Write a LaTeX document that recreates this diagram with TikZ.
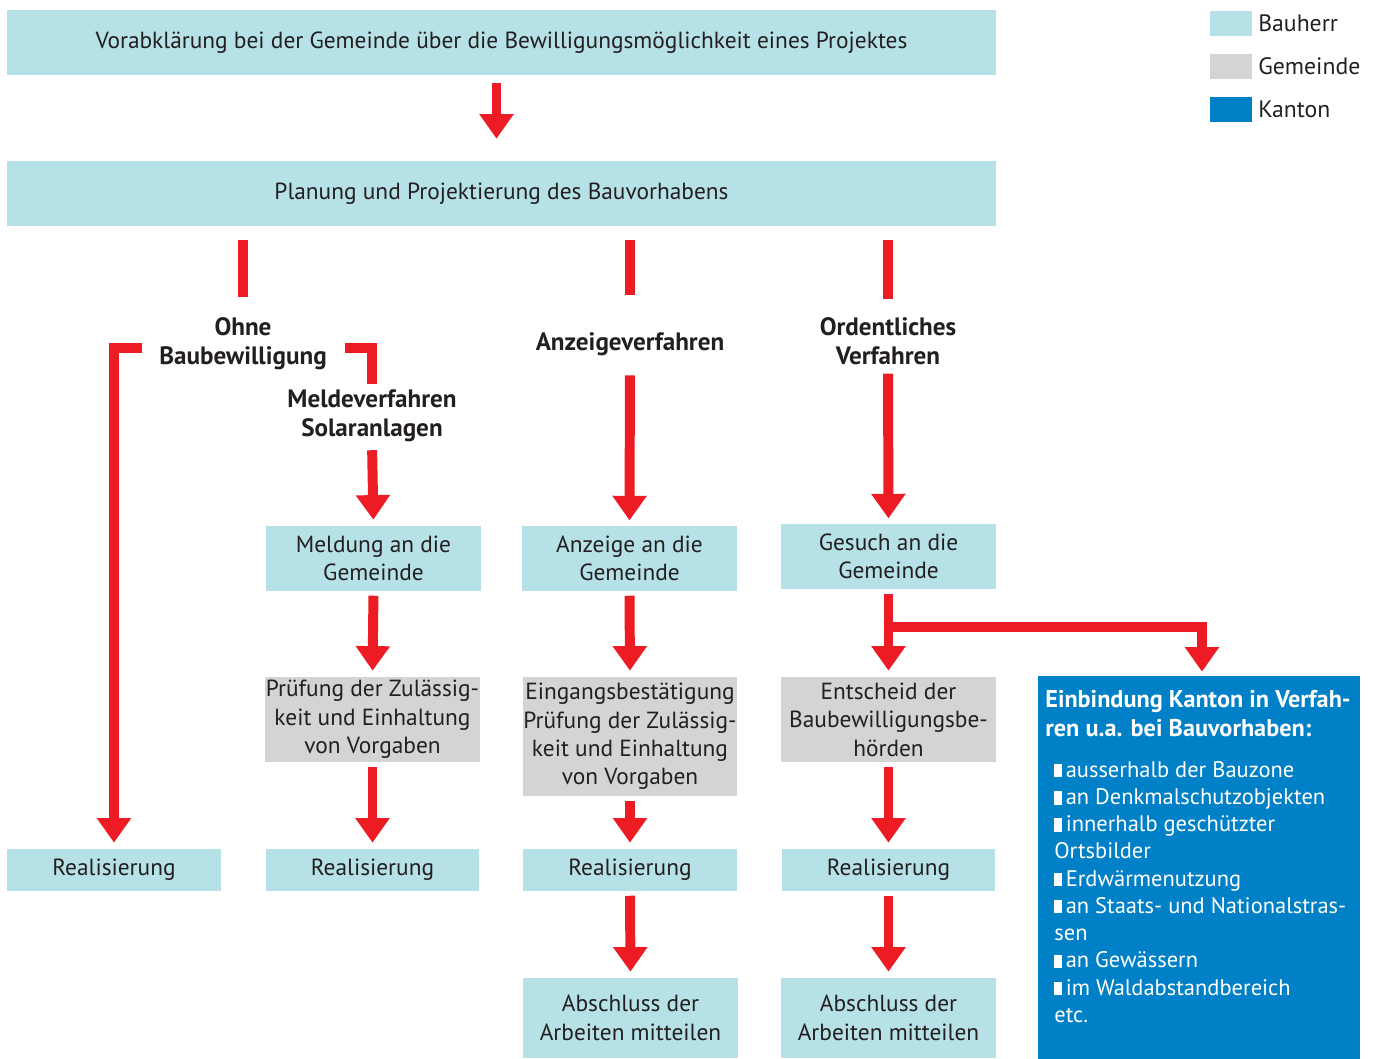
\documentclass[tikz,border=0pt]{standalone}
\usepackage{fontspec}
\setmainfont{PT Sans}
\usetikzlibrary{arrows.meta}
\usepackage{xcolor}
\definecolor{bauherrcol}{HTML}{B6E1E6}
\definecolor{gemeindecol}{HTML}{D4D4D4}
\definecolor{kantoncol}{HTML}{0080C6}
\definecolor{pfeilrot}{HTML}{ED1C24}
\definecolor{textcol}{HTML}{231F20}
\newcommand{\kbullet}{\rule{4.3pt}{7.6pt}\hspace{2.2pt}}
\tikzstyle{bauherr box}=[fill=bauherrcol,text=textcol,align=center,inner sep=0pt,font=\fontsize{13.3}{16.2}\selectfont]
\tikzstyle{gemeinde box} = [bauherr box, fill=gemeindecol]
\tikzstyle{kanton box} = [fill=kantoncol, inner sep=0pt]
\tikzstyle{verfahren label} = [text=textcol, align=center, inner sep=0pt, font=\fontsize{14.3}{16.4}\selectfont\bfseries]
\tikzstyle{legend text} = [text=textcol, anchor=west, inner sep=0pt, font=\fontsize{13.5}{16.2}\selectfont]
\tikzstyle{edge} = [draw,line width=5.67pt,pfeilrot]
\tikzstyle{arrow edge} = [edge, -{Triangle[width=18.7pt,length=14pt]}]

\begin{document}
\begin{tikzpicture}[x=0.02cm, y=-0.02cm]
    \useasboundingbox (0,0) rectangle (1374,1059);

    % Boxes
    \node[bauherr box, minimum width=19.78cm, minimum height=1.3cm] (vor) at (501.5,42.5)
        {Vorabklärung bei der Gemeinde über die Bewilligungsmöglichkeit eines Projektes};
    \node[bauherr box, minimum width=19.78cm, minimum height=1.3cm] (plan) at (501.5,193.5)
        {Planung und Projektierung des Bauvorhabens};

    \node[bauherr box, minimum width=4.3cm, minimum height=1.3cm] (meldung) at (373.5,558.5) {Meldung an die\\Gemeinde};
    \node[bauherr box, minimum width=4.3cm, minimum height=1.3cm] (anzeige) at (629.5,558.5) {Anzeige an die\\Gemeinde};
    \node[bauherr box, minimum width=4.3cm, minimum height=1.3cm] (gesuch) at (888.5,556.5) {Gesuch an die\\Gemeinde};

    \node[gemeinde box, minimum width=4.3cm, minimum height=1.7cm] (pruefung) at (372.5,719.5)
        {Prüfung der Zulässig-\\keit und Einhaltung\\von Vorgaben};
    \node[gemeinde box, minimum width=4.28cm, minimum height=2.38cm] (eingang) at (630,736.5)
        {Eingangsbestätigung\\Prüfung der Zulässig-\\keit und Einhaltung\\von Vorgaben};
    \node[gemeinde box, minimum width=4.3cm, minimum height=1.7cm] (entscheid) at (888.5,719.5)
        {Entscheid der\\Baubewilligungsbe-\\hörden};

    \foreach \pos/\name in {{(114,870)/real_a}, {(372.5,870)/real_b}, {(630,870)/real_c}, {(888.5,870)/real_d}}
        \node[bauherr box, minimum width=4.28cm, minimum height=0.84cm] (\name) at \pos {Realisierung};

    \foreach \pos/\name in {{(630.5,1018)/abschluss_c}, {(888.5,1018)/abschluss_d}}
        \node[bauherr box, minimum width=4.3cm, minimum height=1.6cm] (\name) at \pos {Abschluss der\\Arbeiten mitteilen};

    % Kanton
    \node[kanton box, minimum width=6.44cm, minimum height=7.66cm] (kanton) at (1199,867.5) {};
    \node[anchor=north west, align=left, inner sep=0pt, text=white, font=\fontsize{13.8}{16.4}\selectfont\bfseries] (kanton_titel) at (1045,690)
        {Einbindung Kanton in Verfah-\\ren u.a. bei Bauvorhaben:};
    \node[anchor=north west, align=left, inner sep=0pt, text=white, font=\fontsize{12.8}{15.5}\selectfont] (kanton_liste) at (1054,761)
        {\kbullet ausserhalb der Bauzone\\
         \kbullet an Denkmalschutzobjekten\\
         \kbullet innerhalb geschützter\\
         Ortsbilder\\
         \kbullet Erdwärmenutzung\\
         \kbullet an Staats- und Nationalstras-\\
         sen\\
         \kbullet an Gewässern\\
         \kbullet im Waldabstandbereich\\
         etc.};

    % Verfahren labels
    \node[verfahren label] (ohne) at (243,344) {Ohne\\Baubewilligung};
    \node[verfahren label] (melde) at (372,416) {Meldeverfahren\\Solaranlagen};
    \node[verfahren label] (anzeigev) at (630,344) {Anzeigeverfahren};
    \node[verfahren label] (ordentl) at (888,341) {Ordentliches\\Verfahren};

    % Legend
    \foreach \y/\col/\txt in {23/bauherrcol/Bauherr, 66/gemeindecol/Gemeinde, 109/kantoncol/Kanton}
    {
        \node[fill=\col, minimum width=0.84cm, minimum height=0.5cm, inner sep=0pt] (leg_\txt) at (1231,\y) {};
        \node[legend text] (legtxt_\txt) at (1258,\y) {\txt};
    }

    % Link creation
    \coordinate (ohne_l) at (142,348);
    \coordinate (ohne_r) at (345,348);
    \coordinate (abzweig) at (888.5,627);

    \path[arrow edge, shorten <=4.5pt, shorten >=12.5pt] ([xshift=-0.1cm]vor.south) -- ([xshift=-0.1cm]plan.north);
    \foreach \dest/\gap in {ohne/12pt, anzeigev/21pt, ordentl/10.5pt}
        \path[edge, shorten <=7.9pt, shorten >=\gap] (plan.south -| \dest) -- (\dest.north);

    \path[arrow edge, shorten >=3.4pt] (ohne_l) -| (real_a.north);
    \path[edge, shorten >=3.5pt] (ohne_r) -| (melde.north);

    \path[arrow edge, shorten <=4.5pt, shorten >=3.4pt] (melde.south) -- (meldung.north);
    \foreach \source/\dest/\gap in {anzeigev/anzeige/11pt, ordentl/gesuch/5pt}
        \path[arrow edge, shorten <=\gap, shorten >=3pt] (\source.south) -- (\dest.north);

    \foreach \source/\dest in {meldung/pruefung, anzeige/eingang, gesuch/entscheid,
                               pruefung/real_b, eingang/real_c, entscheid/real_d,
                               real_c/abschluss_c, real_d/abschluss_d}
        \path[arrow edge, shorten <=2.5pt, shorten >=3.4pt] (\source.south) -- (\dest.north);

    \path[arrow edge, shorten >=2.3pt] (abzweig) -| ([xshift=0.06cm]kanton.north);

\end{tikzpicture}
\end{document}
